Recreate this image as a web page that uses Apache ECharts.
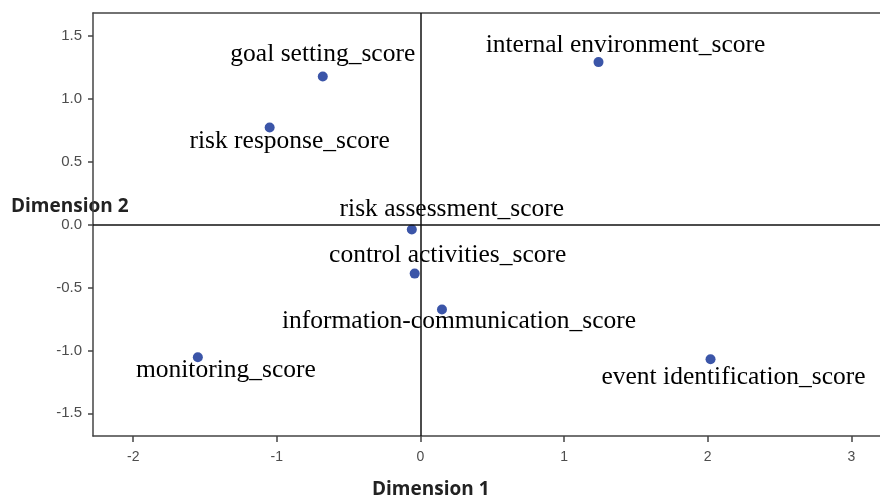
<!DOCTYPE html>
<html>
<head>
<meta charset="utf-8">
<script src="https://cdn.jsdelivr.net/npm/echarts@6/dist/echarts.min.js"></script>
<style>
  html, body { margin: 0; padding: 0; background: #fff; }
  #chart { width: 880px; height: 497px; }
</style>
</head>
<body>
<div id="chart"></div>
<script>
// category points: joint plot of dimension scores
const names = [
  "goal setting_score",
  "internal environment_score",
  "risk response_score",
  "risk assessment_score",
  "control activities_score",
  "information-communication_score",
  "monitoring_score",
  "event identification_score",
];
const dim1 = [-0.68, 1.24, -1.05, -0.06, -0.04, 0.15, -1.55, 2.02];
const dim2 = [1.175, 1.29, 0.77, -0.04, -0.39, -0.675, -1.055, -1.07];

const xTicks = [-2, -1, 0, 1, 2, 3];
const yTicks = [-1.5, -1.0, -0.5, 0.0, 0.5, 1.0, 1.5];

// label offsets (px) relative to each point
const labelOffsets = {
  "goal setting_score": [0, -22],
  "internal environment_score": [27, -17],
  "risk response_score": [20, 14],
  "risk assessment_score": [40, -20],
  "control activities_score": [33, -18],
  "information-communication_score": [17, 12],
  "monitoring_score": [28, 13],
  "event identification_score": [23, 18],
};

const chart = echarts.init(document.getElementById("chart"));

const axisGray = "#444";
const labelGray = "#4d4d4d";
const xMin = -2.28;
const xMax = 3.2;

const option = {
  animation: false,
  grid: {
    left: 93,
    right: 0,
    top: 13,
    bottom: 61,
  },
  xAxis: [
    {
      type: "value",
      min: xMin,
      max: xMax,
      axisLine: { show: true, onZero: false, lineStyle: { color: axisGray, width: 1.5 } },
      axisTick: { show: true, length: 6, customValues: xTicks, lineStyle: { color: axisGray, width: 1.5 } },
      axisLabel: {
        customValues: xTicks,
        color: labelGray,
        fontFamily: "Liberation Sans",
        fontSize: 14,
        margin: 14,
      },
      splitLine: { show: false },
    },
    {
      // top frame line only
      type: "value",
      position: "top",
      min: xMin,
      max: xMax,
      axisLine: { show: true, onZero: false, lineStyle: { color: axisGray, width: 1.5 } },
      axisTick: { show: false },
      axisLabel: { show: false },
      splitLine: { show: false },
    },
  ],
  yAxis: {
    type: "value",
    min: -1.68,
    max: 1.68,
    axisLine: { show: true, onZero: false, lineStyle: { color: axisGray, width: 1.5 } },
    axisTick: { show: true, length: 5, customValues: yTicks, lineStyle: { color: axisGray, width: 1.5 } },
    axisLabel: {
      customValues: yTicks,
      color: labelGray,
      fontFamily: "Liberation Sans",
      fontSize: 15,
      margin: 11,
      formatter: (v) => v.toFixed(1),
    },
    splitLine: { show: false },
  },
  graphic: [
    {
      type: "text",
      left: 11,
      top: 197,
      style: {
        text: "Dimension 2",
        font: "bold 19px 'Open Sans', 'Liberation Sans', sans-serif",
        fill: "#222",
      },
    },
    {
      type: "text",
      left: 372,
      top: 480,
      style: {
        text: "Dimension 1",
        font: "bold 19px 'Open Sans', 'Liberation Sans', sans-serif",
        fill: "#222",
      },
    },
  ],
  series: [
    {
      type: "scatter",
      symbolSize: 10,
      itemStyle: { color: "#3b55a8", opacity: 1 },
      data: names.map((n, i) => ({
        value: [dim1[i], dim2[i]],
        name: n,
        label: {
          show: true,
          position: "inside",
          offset: labelOffsets[n],
          formatter: n,
          color: "#000",
          fontFamily: "Liberation Serif",
          fontSize: 25.5,
        },
      })),
      markLine: {
        silent: true,
        symbol: "none",
        label: { show: false },
        lineStyle: { color: "#111", width: 1.5, type: "solid" },
        data: [{ xAxis: 0 }, { yAxis: 0 }],
      },
      z: 3,
    },
  ],
};

chart.setOption(option);
</script>
</body>
</html>
